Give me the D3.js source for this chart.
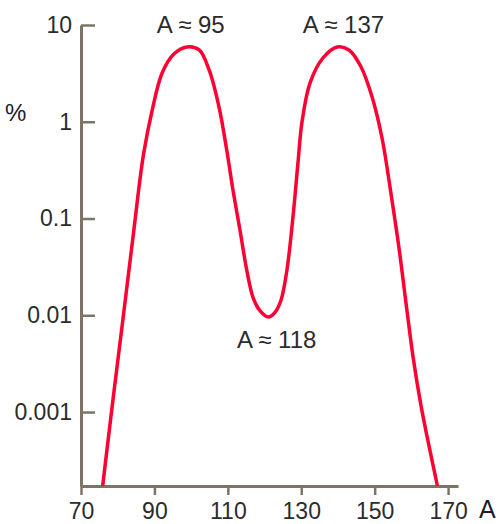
<!DOCTYPE html>
<html>
<head>
<meta charset="utf-8">
<script src="https://cdn.jsdelivr.net/npm/d3@7"></script>
<style>
  body { margin: 0; background: #fff; }
  svg { display: block; font-family: "Liberation Sans", Arial, sans-serif; }
  .axis path, .axis line { stroke: #7d7466; }
  .axis text { fill: #2b2b2b; }
</style>
</head>
<body>
<svg id="chart" width="503" height="524"></svg>
<script>
// mass number A and fission yield in %
var massNumber = [75.9, 78.7, 81.5, 84.3, 87.0, 89.4, 92.1, 95.3, 98.9, 102.2, 104.9, 107.6,
  109.7, 111.4, 113.3, 115.2, 116.9, 118.8, 121.0, 122.9, 124.5, 126.1, 127.8, 129.1, 130.2,
  132.4, 135.9, 139.8, 143.0, 146.3, 149.3, 152.0, 154.5, 156.7, 158.6, 160.5, 162.6, 164.8, 167.1];
var yieldPct = [0.000172, 0.00133, 0.0096, 0.0708, 0.453, 1.32, 3.19, 5.01, 5.93, 5.52, 3.43, 1.42,
  0.51, 0.197, 0.0761, 0.0287, 0.0151, 0.0111, 0.0096, 0.0108, 0.0144, 0.0294, 0.109, 0.375, 0.994,
  2.52, 4.56, 5.93, 5.52, 3.68, 1.80, 0.679, 0.175, 0.0473, 0.0128, 0.00362, 0.00118, 0.000446, 0.000172];

var xTicks = [70, 90, 110, 130, 150, 170];
var yTicks = [10, 1, 0.1, 0.01, 0.001];
var yTickLabels = ['10', '1', '0.1', '0.01', '0.001'];

var annotText = ['A \u2248 95', 'A \u2248 137', 'A \u2248 118'];
var annotMass = [99.9, 141.5, 123.3];
var annotPct = [5.93, 5.93, 0.0096];

var svg = d3.select('#chart');

var x = d3.scaleLinear().domain([70, 172.7]).range([81, 458]);
var y = d3.scaleLog().domain([0.000172, 10]).range([486, 25]);

// y axis, ticks pointing inward
svg.append('g')
  .attr('class', 'axis')
  .attr('transform', 'translate(' + x(70) + ',0)')
  .call(d3.axisLeft(y).tickValues(yTicks).tickSize(-14).tickSizeOuter(0).tickPadding(9)
    .tickFormat(function(d, i) { return yTickLabels[i]; }))
  .call(function(g) {
    g.select('.domain').attr('stroke-width', 3);
    g.selectAll('.tick line').attr('stroke-width', 2.5);
    g.selectAll('.tick text').attr('font-size', 23).attr('font-family', '"Liberation Sans", Arial, sans-serif');
  });

// x axis
svg.append('g')
  .attr('class', 'axis')
  .attr('transform', 'translate(0,' + y.range()[0] + ')')
  .call(d3.axisBottom(x).tickValues(xTicks).tickSize(9).tickSizeOuter(0).tickPadding(8)
    .tickFormat(d3.format('d')))
  .call(function(g) {
    g.select('.domain').attr('stroke-width', 3);
    g.selectAll('.tick line').attr('stroke-width', 2.5);
    g.selectAll('.tick text').attr('font-size', 23).attr('font-family', '"Liberation Sans", Arial, sans-serif');
  });

// axis titles
svg.append('text')
  .attr('x', 5).attr('y', 121)
  .attr('font-size', 24).attr('fill', '#1c1c30')
  .text('%');

svg.append('text')
  .attr('x', 479).attr('y', 518)
  .attr('font-size', 25).attr('fill', '#1c1c30')
  .text('A');

// yield curve
var pts = massNumber.map(function(a, i) { return [a, yieldPct[i]]; });
var line = d3.line()
  .x(function(d) { return x(d[0]); })
  .y(function(d) { return y(d[1]); })
  .curve(d3.curveCatmullRom.alpha(0.5));

svg.append('path')
  .datum(pts)
  .attr('fill', 'none')
  .attr('stroke', '#ff0033')
  .attr('stroke-width', 3.5)
  .attr('stroke-linejoin', 'round')
  .attr('d', line);

// peak / valley labels
var annotDy = [-14, -14, 31];
svg.selectAll('.annot')
  .data(annotText)
  .enter().append('text')
  .attr('class', 'annot')
  .attr('x', function(d, i) { return x(annotMass[i]); })
  .attr('y', function(d, i) { return y(annotPct[i]) + annotDy[i]; })
  .attr('text-anchor', 'middle')
  .attr('font-size', 24)
  .attr('fill', '#2b2b2b')
  .text(function(d) { return d; });
</script>
</body>
</html>
